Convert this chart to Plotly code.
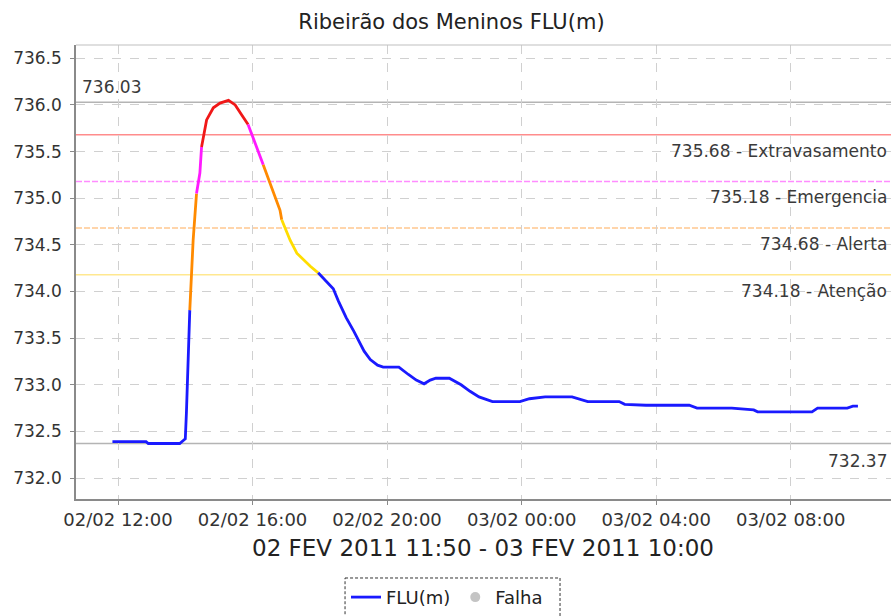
import plotly.graph_objects as go

# ---------------- data ----------------
times = [
    "2011-02-02 11:50", "2011-02-02 12:50", "2011-02-02 12:54", "2011-02-02 13:50",
    "2011-02-02 13:58", "2011-02-02 14:00", "2011-02-02 14:02", "2011-02-02 14:05",
    "2011-02-02 14:08", "2011-02-02 14:11", "2011-02-02 14:14", "2011-02-02 14:17",
    "2011-02-02 14:20", "2011-02-02 14:26", "2011-02-02 14:29", "2011-02-02 14:38",
    "2011-02-02 14:50", "2011-02-02 15:02", "2011-02-02 15:17", "2011-02-02 15:29",
    "2011-02-02 15:41", "2011-02-02 15:52", "2011-02-02 16:04", "2011-02-02 16:19",
    "2011-02-02 16:31", "2011-02-02 16:49", "2011-02-02 16:52", "2011-02-02 17:07",
    "2011-02-02 17:19", "2011-02-02 17:43", "2011-02-02 17:57", "2011-02-02 18:09",
    "2011-02-02 18:24", "2011-02-02 18:33", "2011-02-02 18:47", "2011-02-02 19:01",
    "2011-02-02 19:19", "2011-02-02 19:30", "2011-02-02 19:43", "2011-02-02 19:53",
    "2011-02-02 20:21", "2011-02-02 20:38", "2011-02-02 20:52", "2011-02-02 21:06",
    "2011-02-02 21:17", "2011-02-02 21:27", "2011-02-02 21:51", "2011-02-02 22:12",
    "2011-02-02 22:28", "2011-02-02 22:44", "2011-02-02 22:57", "2011-02-02 23:08",
    "2011-02-02 23:57", "2011-02-03 00:14", "2011-02-03 00:42", "2011-02-03 01:30",
    "2011-02-03 01:58", "2011-02-03 02:54", "2011-02-03 03:04", "2011-02-03 03:42",
    "2011-02-03 04:59", "2011-02-03 05:13", "2011-02-03 06:15", "2011-02-03 06:30",
    "2011-02-03 06:54", "2011-02-03 07:01", "2011-02-03 08:38", "2011-02-03 08:48",
    "2011-02-03 09:41", "2011-02-03 09:51", "2011-02-03 10:00",
]
levels = [
    732.39, 732.39, 732.37, 732.37,
    732.41, 732.42, 732.70, 733.40,
    733.80, 734.20, 734.55, 734.80,
    735.05, 735.27, 735.55, 735.84,
    735.97, 736.02, 736.05, 736.00,
    735.89, 735.79, 735.59, 735.36,
    735.16, 734.87, 734.77, 734.55,
    734.41, 734.27, 734.20, 734.12,
    734.03, 733.90, 733.72, 733.57,
    733.36, 733.27, 733.21, 733.19,
    733.19, 733.11, 733.05, 733.01,
    733.05, 733.07, 733.07, 733.00,
    732.93, 732.87, 732.84, 732.82,
    732.82, 732.85, 732.87, 732.87,
    732.82, 732.82, 732.79, 732.78,
    732.78, 732.75, 732.75, 732.74,
    732.73, 732.71, 732.71, 732.75,
    732.75, 732.77, 732.77,
]
# alert class of the segment that ends at each point
segment_class = (
    ["Normal"] * 9
    + ["Alerta"] * 4
    + ["Emergencia"] * 2
    + ["Extravasamento"] * 7
    + ["Emergencia"] * 2
    + ["Alerta"] * 3
    + ["Atencao"] * 4
    + ["Normal"] * 40
)

threshold_values = [735.68, 735.18, 734.68, 734.18]
threshold_labels = ["735.68 - Extravasamento", "735.18 - Emergencia",
                    "734.68 - Alerta", "734.18 - Atenção"]
max_level = 736.03
min_level = 732.37

title_text = "Ribeirão dos Meninos FLU(m)"
period_text = "02 FEV 2011 11:50 - 03 FEV 2011 10:00"

# ---------------- styles ----------------
FONT = "DejaVu Sans"
curve_colors = {
    "Normal": "#1a1aff",
    "Atencao": "#ffdd00",
    "Alerta": "#ff8a00",
    "Emergencia": "#ff1aff",
    "Extravasamento": "#f01818",
}
threshold_colors = ["#ff8c8c", "#ff8cff", "#ffc890", "#ffe890"]
threshold_dash = ["solid", "6px,2px", "6px,2px", "solid"]

fig = go.Figure()

# group consecutive segments of same class into traces
n = len(times)
i = 1
while i < n:
    cls = segment_class[i]
    j = i
    while j + 1 < n and segment_class[j + 1] == cls:
        j += 1
    fig.add_trace(go.Scatter(
        x=times[i - 1:j + 1], y=levels[i - 1:j + 1], mode="lines",
        line=dict(color=curve_colors[cls], width=2.8),
        showlegend=False, hoverinfo="skip"))
    i = j + 1

# legend-only entries
fig.add_trace(go.Scatter(x=[None], y=[None], mode="lines", name="FLU(m)",
                         line=dict(color="#1a1aff", width=2.8)))
fig.add_trace(go.Scatter(x=[None], y=[None], mode="markers", name="Falha",
                         marker=dict(color="#c4c4c4", size=10)))

shapes = []
# max / min reference lines
for v in (max_level, min_level):
    shapes.append(dict(type="line", xref="paper", x0=0, x1=1, yref="y", y0=v, y1=v,
                       line=dict(color="#b4b4b4", width=1.5), layer="between"))
for v, c, d in zip(threshold_values, threshold_colors, threshold_dash):
    shapes.append(dict(type="line", xref="paper", x0=0, x1=1, yref="y", y0=v, y1=v,
                       line=dict(color=c, width=1.5, dash=d), layer="between"))
# top border of plot area
shapes.append(dict(type="line", xref="paper", yref="paper", x0=0, x1=1, y0=1, y1=1,
                   line=dict(color="#c0c0c0", width=1.2)))
# dashed legend box
shapes.append(dict(type="rect", xref="paper", yref="paper",
                   x0=0.3301, x1=0.5939, y0=-0.174, y1=-0.28,
                   line=dict(color="#333333", width=1, dash="3px,2px")))

LABEL_FONT = dict(family=FONT, size=17, color="#3a3a3a")
annotations = []
for v, t in zip(threshold_values, threshold_labels):
    annotations.append(dict(xref="paper", x=1, xanchor="right", yref="y", y=v,
                            yanchor="middle", yshift=-16, text=t, showarrow=False,
                            font=LABEL_FONT, xshift=-2))
annotations.append(dict(xref="paper", x=0, xanchor="left", yref="y", y=max_level,
                        yanchor="middle", yshift=15, text=f"{max_level:.2f}", showarrow=False,
                        font=LABEL_FONT, xshift=4))
annotations.append(dict(xref="paper", x=1, xanchor="right", yref="y", y=min_level,
                        yanchor="middle", yshift=-17, text=f"{min_level:.2f}", showarrow=False,
                        font=LABEL_FONT, xshift=-2))
annotations.append(dict(xref="paper", x=0.4994, xanchor="center", yref="paper", y=-0.108,
                        yanchor="middle", text=period_text, showarrow=False,
                        font=dict(family=FONT, size=23, color="#222222")))

fig.update_layout(
    width=891, height=616,
    margin=dict(l=76, r=0, t=45, b=117),
    paper_bgcolor="white", plot_bgcolor="white",
    title=dict(text=title_text, x=0.5067, xanchor="center", y=1 - 22 / 616,
               yanchor="middle", font=dict(family=FONT, size=21, color="#222222")),
    shapes=shapes, annotations=annotations,
    showlegend=True,
    legend=dict(orientation="h", x=0.3313, xanchor="left", y=-0.176, yanchor="top",
                font=dict(family=FONT, size=18, color="#222222"),
                bgcolor="rgba(0,0,0,0)", borderwidth=0, itemwidth=30),
    xaxis=dict(
        type="date",
        range=["2011-02-02 10:45", "2011-02-03 10:59"],
        tick0="2011-02-02 00:00", dtick=4 * 3600 * 1000,
        tickformat="%d/%m %H:%M",
        showgrid=True, gridcolor="#d0d0d0", griddash="dash", gridwidth=1,
        showline=True, linecolor="#8a8a8a", linewidth=1.5,
        ticks="outside", ticklen=4, tickcolor="#8a8a8a",
        tickfont=dict(family=FONT, size=18, color="#333333"),
        zeroline=False, fixedrange=True,
    ),
    yaxis=dict(
        range=[731.775, 736.643],
        tick0=732.0, dtick=0.5, tickformat=".1f",
        showgrid=True, gridcolor="#d0d0d0", griddash="dash", gridwidth=1,
        showline=True, linecolor="#8a8a8a", linewidth=1.5,
        ticks="outside", ticklen=4, tickcolor="#8a8a8a",
        ticklabelstandoff=5,
        tickfont=dict(family=FONT, size=17, color="#333333"),
        zeroline=False, fixedrange=True,
    ),
)

fig.write_html("out.html", post_script="document.body.style.margin='0';",
               config={"displayModeBar": False})
